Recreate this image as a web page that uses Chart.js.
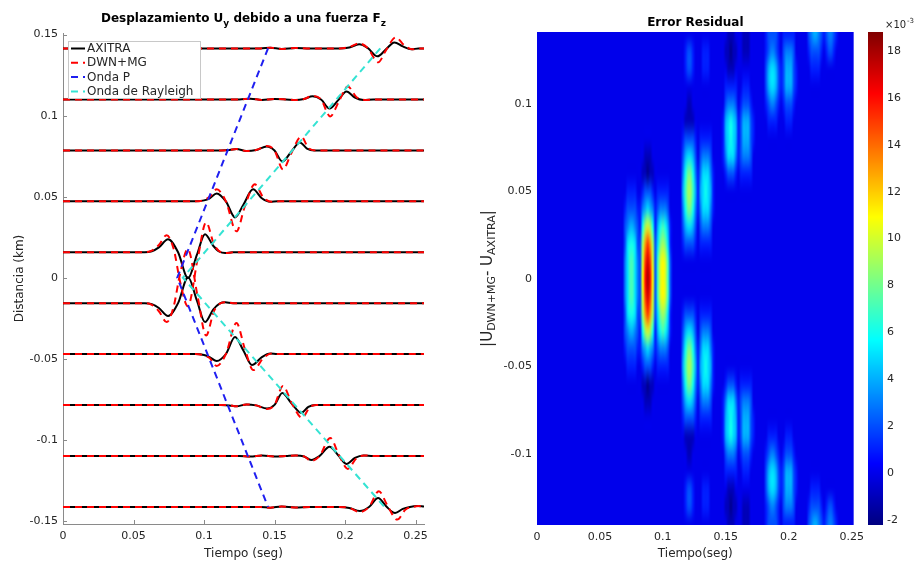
<!DOCTYPE html>
<html><head><meta charset="utf-8">
<script src="https://cdn.jsdelivr.net/npm/chart.js@4.4.1/dist/chart.umd.min.js"></script>
<style>
html,body{margin:0;padding:0;background:#fff;width:920px;height:567px;overflow:hidden}
canvas{position:absolute;top:0}
#c1{left:0}#c2{left:460px}#c3{left:860px}
</style></head><body>
<canvas id="c1" width="460" height="567"></canvas>
<canvas id="c2" width="410" height="567"></canvas>
<canvas id="c3" width="60" height="567"></canvas>
<script>
// ---------------- DATA ----------------
// receiver distances (km) = trace baselines
const distances = [0.1415, 0.1100, 0.0785, 0.0471, 0.0157, -0.0157, -0.0471, -0.0785, -0.1100, -0.1415];
// AXITRA traces: [time (s), amplitude (x1e-3 km)]
const axitraTraces = [
 [[0,0],[0.140,0],[0.147,0.4],[0.155,-0.3],[0.165,0.3],[0.175,0],[0.196,0],[0.203,0.6],[0.210,2.5],[0.216,0.3],[0.223,-4.9],[0.229,-0.6],[0.235,3.7],[0.241,1.2],[0.247,-0.6],[0.252,0],[0.256,0]],
 [[0,0],[0.125,0],[0.133,0.4],[0.141,-0.3],[0.150,0.3],[0.158,0],[0.165,-0.4],[0.171,0.3],[0.177,1.9],[0.183,0],[0.189,-5.6],[0.195,-0.6],[0.201,4.9],[0.207,1.2],[0.213,-0.3],[0.220,0],[0.256,0]],
 [[0,0],[0.112,0],[0.118,0.3],[0.123,0.9],[0.130,-0.3],[0.137,0.3],[0.1445,2.5],[0.150,0],[0.1555,-6.8],[0.162,-0.6],[0.168,4.9],[0.173,1.2],[0.178,0],[0.256,0]],
 [[0,0],[0.094,0],[0.100,0.6],[0.104,1.9],[0.109,4.9],[0.1155,0],[0.122,-9.9],[0.128,-1.9],[0.1348,7.4],[0.141,1.9],[0.147,-0.3],[0.152,0],[0.256,0]],
 [[0,0],[0.058,0],[0.063,0.6],[0.068,3.0],[0.0745,8.0],[0.0816,0],[0.0887,-16.0],[0.095,-1.5],[0.1007,11.1],[0.1065,4.0],[0.111,0.3],[0.115,-0.5],[0.120,0],[0.256,0]],
 [[0,0],[0.058,0],[0.063,-0.6],[0.068,-3.0],[0.0745,-8.0],[0.0816,0],[0.0887,16.0],[0.095,1.5],[0.1007,-11.7],[0.1065,-4.0],[0.111,-0.3],[0.115,0.5],[0.120,0],[0.256,0]],
 [[0,0],[0.094,0],[0.100,-0.6],[0.104,-1.9],[0.109,-4.3],[0.1155,0],[0.122,10.5],[0.128,2.0],[0.134,-6.8],[0.141,-1.9],[0.147,0.3],[0.152,0],[0.256,0]],
 [[0,0],[0.112,0],[0.118,-0.3],[0.123,-0.9],[0.130,0.3],[0.137,-0.3],[0.1447,-2.2],[0.150,0],[0.1555,7.4],[0.162,1.0],[0.169,-4.9],[0.174,-1.2],[0.179,0],[0.256,0]],
 [[0,0],[0.125,0],[0.133,-0.4],[0.141,0.3],[0.150,-0.3],[0.158,0],[0.165,0.3],[0.171,-0.3],[0.176,-2.5],[0.182,0],[0.189,5.7],[0.195,0.6],[0.201,-4.9],[0.207,-1.2],[0.213,0.3],[0.220,0],[0.256,0]],
 [[0,0],[0.140,0],[0.147,-0.4],[0.155,0.3],[0.165,-0.3],[0.175,0],[0.196,0],[0.203,-0.6],[0.2105,-2.5],[0.217,0],[0.2235,5.6],[0.229,0.6],[0.2355,-3.7],[0.241,-1.2],[0.246,0],[0.251,0.6],[0.256,0.3]]
];
// DWN+MG traces: [time (s), amplitude (x1e-3 km)]
const dwnTraces = [
 [[0,0],[0.140,0],[0.147,0.4],[0.155,-0.3],[0.165,0.3],[0.175,0],[0.196,0],[0.203,0.8],[0.210,3.1],[0.216,0.3],[0.2235,-8.6],[0.229,-1.2],[0.236,6.8],[0.242,1.9],[0.248,-0.6],[0.253,0],[0.256,0]],
 [[0,0],[0.125,0],[0.133,0.4],[0.141,-0.3],[0.150,0.3],[0.158,0],[0.165,-0.4],[0.171,0.3],[0.177,2.2],[0.183,0],[0.1895,-10.5],[0.1955,-1.5],[0.202,8.0],[0.208,1.5],[0.214,-0.3],[0.221,0],[0.256,0]],
 [[0,0],[0.112,0],[0.118,0.3],[0.123,0.9],[0.130,-0.3],[0.137,0.3],[0.1445,2.8],[0.150,0],[0.156,-11.7],[0.162,-1.5],[0.169,8.6],[0.174,1.5],[0.179,0],[0.256,0]],
 [[0,0],[0.094,0],[0.100,0.8],[0.104,2.8],[0.109,7.4],[0.1155,0],[0.123,-18.5],[0.129,-3.0],[0.136,10.5],[0.142,2.5],[0.148,-0.3],[0.153,0],[0.256,0]],
 [[0,0],[0.057,0],[0.063,1.0],[0.068,4.5],[0.0735,10.5],[0.0785,2.0],[0.083,-18.0],[0.0885,-33.3],[0.0955,-4.0],[0.1015,18.5],[0.107,5.0],[0.112,0],[0.116,-0.5],[0.121,0],[0.256,0]],
 [[0,0],[0.057,0],[0.063,-1.0],[0.068,-5.0],[0.0735,-11.7],[0.0785,-2.0],[0.083,18.0],[0.0885,33.3],[0.0955,4.0],[0.1015,-20.0],[0.107,-5.0],[0.112,0],[0.116,0.5],[0.121,0],[0.256,0]],
 [[0,0],[0.094,0],[0.100,-0.8],[0.104,-2.5],[0.109,-7.4],[0.1155,0],[0.123,19.1],[0.129,3.0],[0.135,-9.9],[0.142,-2.5],[0.148,0.3],[0.153,0],[0.256,0]],
 [[0,0],[0.112,0],[0.118,-0.3],[0.123,-0.9],[0.130,0.3],[0.137,-0.3],[0.1447,-2.5],[0.150,0],[0.156,11.7],[0.162,1.5],[0.1695,-8.0],[0.175,-1.5],[0.180,0],[0.256,0]],
 [[0,0],[0.125,0],[0.133,-0.4],[0.141,0.3],[0.150,-0.3],[0.158,0],[0.165,0.3],[0.171,-0.3],[0.176,-3.1],[0.182,0],[0.1895,11.1],[0.1955,1.0],[0.202,-8.0],[0.208,-1.5],[0.214,0.3],[0.221,0],[0.256,0]],
 [[0,0],[0.140,0],[0.147,-0.4],[0.155,0.3],[0.165,-0.3],[0.175,0],[0.196,0],[0.203,-0.6],[0.2105,-3.1],[0.217,0],[0.224,9.7],[0.230,1.0],[0.237,-7.8],[0.243,-1.5],[0.248,0],[0.252,0.6],[0.256,0.3]]
];
const pWaveTime = [0.1454, 0.081, 0.1454];
const pWaveDist = [0.1415, 0, -0.1415];
const rayleighTime = [0.225, 0.085, 0.228];
const rayleighDist = [0.1415, 0, -0.1415];
const leftXTicks = [0, 0.05, 0.1, 0.15, 0.2, 0.25];
const leftYTicks = [-0.15, -0.1, -0.05, 0, 0.05, 0.1, 0.15];
const heatXTicks = [0, 0.05, 0.1, 0.15, 0.2, 0.25];
const heatYTicks = [-0.1, -0.05, 0, 0.05, 0.1];
const colorbarTicks = [-2, 0, 2, 4, 6, 8, 10, 12, 14, 16, 18];
const colorLimits = [-2.21, 18.81];
// residual grid: rows at these distances, columns every 0.002 s from t = 0
const heatDist = [0.14,0.13,0.12,0.11,0.10,0.09,0.08,0.07,0.06,0.05,0.04,0.03,0.02,0.01,0,
  -0.01,-0.02,-0.03,-0.04,-0.05,-0.06,-0.07,-0.08,-0.09,-0.10,-0.11,-0.12,-0.13,-0.14];
const heatTimeStep = 0.002;
const heatColumns = 129;
const heatBackground = 0;
// sparse rows: [first column, codes]; code char c -> value parseInt(c,36)-2 (x1e-3)
const heatRows = [
 [[76,"111"],[82,"111"],[90,"23444432333332"],[108,"456654345543"]],
 [[59,"3443"],[66,"333"],[75,"11011"],[82,"111"],[90,"23455432455542"],[108,"344443234432"]],
 [[59,"3443"],[66,"333"],[76,"111"],[90,"24677643466643"],[109,"3333"]],
 [[74,"2333332233322"],[90,"24677643466643"]],
 [[60,"11"],[74,"2455542344432"],[90,"23455432344432"]],
 [[59,"1111"],[74,"3678763466643"],[92,"3333"],[99,"333"]],
 [[58,"3444432333332"],[74,"3678763466643"]],
 [[43,"111"],[58,"4677642455542"],[74,"3577753455542"]],
 [[42,"11011"],[58,"58aa853577753"],[74,"2344432333332"]],
 [[36,"33332234443233333"],[58,"69bb963678763"]],
 [[35,"3444433567653455542"],[58,"58aa853577753"]],
 [[35,"45665438bcb83689863"],[58,"4677642455542"]],
 [[35,"4788744bfhfb47aba73"],[58,"3444432333332"]],
 [[35,"5799754chjhc49cdc94"]],
 [[35,"5799754dikid49cdc94"]],
 [[35,"5799754chjhc49cdc94"]],
 [[35,"4788744bfhfb47aba73"],[58,"3444432333332"]],
 [[35,"45665438bcb83689863"],[58,"4677642455542"]],
 [[35,"3444433567653455542"],[58,"58aa853577753"]],
 [[36,"33332234443233333"],[58,"69bb963678763"]],
 [[42,"11011"],[58,"58aa853577753"],[74,"2344432333332"]],
 [[43,"111"],[58,"4677642455542"],[74,"3577753455542"]],
 [[58,"3444432333332"],[74,"3678763466643"]],
 [[59,"1111"],[74,"3678763466643"],[92,"3333"],[99,"333"]],
 [[60,"11"],[74,"2455542344432"],[90,"23455432344432"]],
 [[74,"2333332233322"],[90,"24677643466643"]],
 [[59,"3443"],[66,"333"],[76,"111"],[90,"24677643466643"],[109,"3333"]],
 [[59,"3443"],[66,"333"],[75,"11011"],[82,"111"],[90,"23455432455542"],[108,"344443234432"]],
 [[76,"111"],[82,"111"],[90,"23444432333332"],[108,"456654345543"]]
];

// ---------------- RENDERING ----------------
Chart.defaults.font.family = "'DejaVu Sans', sans-serif";
Chart.defaults.color = '#262626';
const ampUnit = 0.001;
const TXT = '#262626', AXC = '#8a8a8a';
const C_AX = '#000000', C_DWN = '#ff0000', C_P = '#1f1ff0', C_R = '#35e3d3';

const fixTicks = list => scale => { scale.ticks = list.map(v => ({value: v})); };
const fmt = v => String(Math.round(v * 10000) / 10000);

function drawRich(ctx, parts, x, y, align) {
  let total = 0;
  parts.forEach(p => { ctx.font = p.font; p.w = ctx.measureText(p.t).width; total += p.w; });
  let cx = align === 'center' ? x - total / 2 : x;
  ctx.textAlign = 'left'; ctx.textBaseline = 'alphabetic';
  parts.forEach(p => { ctx.font = p.font; ctx.fillText(p.t, cx, y + (p.dy || 0)); cx += p.w; });
}

function jet(f) {
  f = Math.max(0, Math.min(1, f));
  const c = v => Math.round(255 * Math.max(0, Math.min(1, v)));
  return [c(1.5 - Math.abs(4 * f - 3)), c(1.5 - Math.abs(4 * f - 2)), c(1.5 - Math.abs(4 * f - 1))];
}

// ---------- left chart ----------
const traceData = (pts, base) => pts.map(p => ({x: p[0], y: base + p[1] * ampUnit}));
const leftDatasets = [];
leftDatasets.push({label: 'Onda de Rayleigh', data: rayleighTime.map((t, i) => ({x: t, y: rayleighDist[i]})),
  borderColor: C_R, borderDash: [7, 5], borderWidth: 2, pointRadius: 0, tension: 0});
leftDatasets.push({label: 'Onda P', data: pWaveTime.map((t, i) => ({x: t, y: pWaveDist[i]})),
  borderColor: C_P, borderDash: [7, 5], borderWidth: 2, pointRadius: 0, tension: 0});
distances.forEach((d, i) => leftDatasets.push({label: i === 0 ? 'DWN+MG' : '', data: traceData(dwnTraces[i], d),
  borderColor: C_DWN, borderDash: [7, 5], borderWidth: 2, pointRadius: 0, cubicInterpolationMode: 'monotone'}));
distances.forEach((d, i) => leftDatasets.push({label: i === 0 ? 'AXITRA' : '', data: traceData(axitraTraces[i], d),
  borderColor: C_AX, borderWidth: 2, pointRadius: 0, cubicInterpolationMode: 'monotone'}));

const legendOrder = ['AXITRA', 'DWN+MG', 'Onda P', 'Onda de Rayleigh'];

const leftDecor = {
  id: 'leftDecor',
  afterDraw(chart) {
    const {ctx, chartArea: a, scales: {x, y}} = chart;
    ctx.save();
    ctx.strokeStyle = AXC; ctx.lineWidth = 1; ctx.setLineDash([]);
    leftXTicks.forEach(v => { const px = Math.round(x.getPixelForValue(v)) + 0.5; ctx.beginPath(); ctx.moveTo(px, a.bottom); ctx.lineTo(px, a.bottom - 4); ctx.stroke(); });
    leftYTicks.forEach(v => { const py = Math.round(y.getPixelForValue(v)) + 0.5; ctx.beginPath(); ctx.moveTo(a.left, py); ctx.lineTo(a.left + 4, py); ctx.stroke(); });
    ctx.fillStyle = '#000';
    drawRich(ctx, [
      {t: 'Desplazamiento U', font: "bold 12px 'DejaVu Sans'"},
      {t: 'y', font: "bold 9px 'DejaVu Sans'", dy: 4},
      {t: ' debido a una fuerza F', font: "bold 12px 'DejaVu Sans'"},
      {t: 'z', font: "bold 9px 'DejaVu Sans'", dy: 4}
    ], (a.left + a.right) / 2, 22, 'center');
    const bx = a.left + 5, by = a.top + 8, bw = 132, bh = 57;
    ctx.fillStyle = '#fff'; ctx.fillRect(bx, by, bw, bh);
    ctx.strokeStyle = '#c8c8c8'; ctx.lineWidth = 1;
    ctx.strokeRect(bx + 0.5, by + 0.5, bw, bh);
    ctx.font = "12px 'DejaVu Sans'"; ctx.textBaseline = 'middle'; ctx.textAlign = 'left';
    legendOrder.forEach((lab, i) => {
      const ds = chart.data.datasets.find(d => d.label === lab);
      const cy = by + 7.5 + i * 14.3;
      ctx.strokeStyle = ds.borderColor; ctx.lineWidth = 2;
      ctx.setLineDash(ds.borderDash || []);
      ctx.beginPath(); ctx.moveTo(bx + 3, cy); ctx.lineTo(bx + 17, cy); ctx.stroke();
      ctx.setLineDash([]);
      ctx.fillStyle = TXT; ctx.fillText(lab, bx + 19, cy + 0.5);
    });
    ctx.restore();
  }
};

new Chart(document.getElementById('c1'), {
  type: 'line',
  data: {datasets: leftDatasets},
  options: {
    responsive: false, devicePixelRatio: 1, animation: false,
    layout: {padding: {top: 33, right: 36, left: 0, bottom: 0}},
    plugins: {legend: {display: false}, tooltip: {enabled: false}},
    elements: {line: {borderCapStyle: 'butt'}},
    scales: {
      x: {type: 'linear', min: 0, max: 0.256, afterBuildTicks: fixTicks(leftXTicks), afterFit: s => { s.height = 43; },
        grid: {display: false, drawTicks: false}, border: {display: true, color: AXC, width: 1},
        ticks: {padding: 6, font: {size: 11}, color: TXT, callback: fmt, autoSkip: false, maxRotation: 0},
        title: {display: true, text: 'Tiempo (seg)', font: {size: 12}, color: TXT, padding: {top: 0, bottom: 6}}},
      y: {type: 'linear', min: -0.152, max: 0.151, afterBuildTicks: fixTicks(leftYTicks), afterFit: s => { s.width = 63; },
        grid: {display: false, drawTicks: false}, border: {display: true, color: AXC, width: 1},
        ticks: {padding: 5, font: {size: 11}, color: TXT, callback: fmt, autoSkip: false},
        title: {display: true, text: 'Distancia (km)', font: {size: 12}, color: TXT, padding: {top: 13, bottom: 0}}}
    }
  },
  plugins: [leftDecor]
});

// ---------- heatmap ----------
const heatGrid = heatRows.map(segs => {
  const row = new Array(heatColumns).fill(heatBackground);
  segs.forEach(([k0, s]) => { for (let i = 0; i < s.length; i++) row[k0 + i] = parseInt(s[i], 36) - 2; });
  return row;
});
const heatImg = document.createElement('canvas');
heatImg.width = heatColumns; heatImg.height = heatDist.length;
(function () {
  const g = heatImg.getContext('2d');
  const id = g.createImageData(heatColumns, heatDist.length);
  heatGrid.forEach((row, r) => row.forEach((v, k) => {
    const col = jet((v - colorLimits[0]) / (colorLimits[1] - colorLimits[0]));
    const o = (r * heatColumns + k) * 4;
    id.data[o] = col[0]; id.data[o + 1] = col[1]; id.data[o + 2] = col[2]; id.data[o + 3] = 255;
  }));
  g.putImageData(id, 0, 0);
})();

const heatPlugin = {
  id: 'heat',
  beforeDatasetsDraw(chart) {
    const {ctx, chartArea: a, scales: {x, y}} = chart;
    const halfRow = (heatDist[0] - heatDist[1]) / 2;
    const x0 = x.getPixelForValue(-heatTimeStep / 2);
    const x1 = x.getPixelForValue((heatColumns - 0.5) * heatTimeStep);
    const y0 = y.getPixelForValue(heatDist[0] + halfRow);
    const y1 = y.getPixelForValue(heatDist[heatDist.length - 1] - halfRow);
    ctx.save();
    ctx.beginPath(); ctx.rect(a.left, a.top, a.right - a.left, a.bottom - a.top); ctx.clip();
    ctx.imageSmoothingEnabled = true; ctx.imageSmoothingQuality = 'high';
    ctx.drawImage(heatImg, x0, y0, x1 - x0, y1 - y0);
    ctx.restore();
  },
  afterDraw(chart) {
    const {ctx, chartArea: a} = chart;
    ctx.save();
    ctx.fillStyle = '#000';
    ctx.font = "bold 12px 'DejaVu Sans'"; ctx.textAlign = 'center'; ctx.textBaseline = 'alphabetic';
    ctx.fillText('Error Residual', (a.left + a.right) / 2, 26);
    ctx.translate(32, (a.top + a.bottom) / 2);
    ctx.rotate(-Math.PI / 2);
    ctx.fillStyle = TXT;
    drawRich(ctx, [
      {t: '|U', font: "15px 'DejaVu Sans'"},
      {t: 'DWN+MG', font: "11px 'DejaVu Sans'", dy: 3},
      {t: '- U', font: "15px 'DejaVu Sans'"},
      {t: 'AXITRA', font: "11px 'DejaVu Sans'", dy: 3},
      {t: '|', font: "15px 'DejaVu Sans'"}
    ], 0, 0, 'center');
    ctx.restore();
  }
};

new Chart(document.getElementById('c2'), {
  type: 'scatter',
  data: {datasets: []},
  options: {
    responsive: false, devicePixelRatio: 1, animation: false,
    layout: {padding: {top: 32, right: 16, left: 0, bottom: 0}},
    plugins: {legend: {display: false}, tooltip: {enabled: false}},
    scales: {
      x: {type: 'linear', min: 0, max: 0.2516, afterBuildTicks: fixTicks(heatXTicks), afterFit: s => { s.height = 42; },
        grid: {display: false, drawTicks: false}, border: {display: false},
        ticks: {padding: 6, font: {size: 11}, color: TXT, callback: fmt, autoSkip: false, maxRotation: 0},
        title: {display: true, text: 'Tiempo(seg)', font: {size: 12}, color: TXT, padding: {top: 0, bottom: 6}}},
      y: {type: 'linear', min: -0.1406, max: 0.1411, afterBuildTicks: fixTicks(heatYTicks), afterFit: s => { s.width = 77; },
        grid: {display: false, drawTicks: false}, border: {display: false},
        ticks: {padding: 5, font: {size: 11}, color: TXT, callback: fmt, autoSkip: false}}
    }
  },
  plugins: [heatPlugin]
});

// ---------- colorbar ----------
const cbPlugin = {
  id: 'cb',
  beforeDatasetsDraw(chart) {
    const {ctx, chartArea: a, scales: {y}} = chart;
    ctx.save();
    for (let py = Math.floor(a.top); py < a.bottom; py++) {
      const v = y.getValueForPixel(py + 0.5);
      const c = jet((v - colorLimits[0]) / (colorLimits[1] - colorLimits[0]));
      ctx.fillStyle = 'rgb(' + c.join(',') + ')';
      ctx.fillRect(a.left, py, a.right - a.left, 1);
    }
    ctx.fillStyle = TXT; ctx.textAlign = 'left';
    ctx.font = "10px 'DejaVu Sans'"; ctx.fillText('\u00d710', a.right + 2, 28);
    ctx.font = "7px 'DejaVu Sans'"; ctx.fillText('-3', a.right + 24, 23);
    ctx.restore();
  }
};

new Chart(document.getElementById('c3'), {
  type: 'scatter',
  data: {datasets: []},
  options: {
    responsive: false, devicePixelRatio: 1, animation: false,
    layout: {padding: {top: 32, right: 0, left: 8, bottom: 42}},
    plugins: {legend: {display: false}, tooltip: {enabled: false}},
    scales: {
      x: {type: 'linear', display: false, min: 0, max: 1},
      y: {type: 'linear', position: 'right', min: colorLimits[0], max: colorLimits[1],
        afterBuildTicks: fixTicks(colorbarTicks), afterFit: s => { s.width = 37; },
        grid: {display: false, drawTicks: false}, border: {display: false},
        ticks: {padding: 4, font: {size: 11}, color: TXT, callback: fmt, autoSkip: false}}
    }
  },
  plugins: [cbPlugin]
});
</script>
</body></html>
